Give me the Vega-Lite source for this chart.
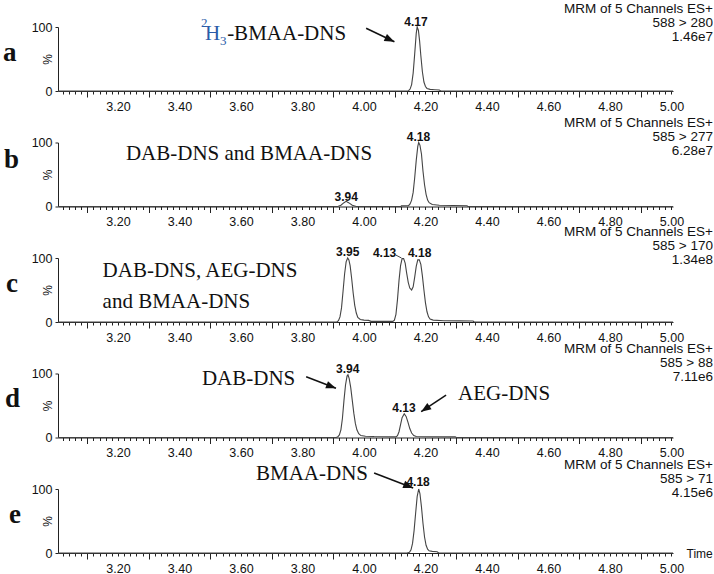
{
  "$schema": "https://vega.github.io/schema/vega-lite/v6.json",
  "padding": {"left": 2, "top": 2, "right": 0, "bottom": 0},
  "spacing": 51.5,
  "bounds": "flush",
  "config": {
    "view": {"stroke": null},
    "axis": {"domainColor": "#222", "tickColor": "#222", "labelColor": "#111", "labelFont": "Liberation Sans", "titleFont": "Liberation Sans", "grid": false, "domainWidth": 1, "tickWidth": 1},
    "title": {"anchor": "end", "align": "right", "frame": "group", "dx": 40, "baseline": "top", "font": "Liberation Sans", "fontSize": 13.5, "fontWeight": "normal", "lineHeight": 14, "color": "#111"}
  },
  "vconcat": [
    {
      "width": 615, "height": 64,
      "title": {"text": ["MRM of 5 Channels ES+", "588 > 280", "1.46e7"], "offset": -28},
      "layer": [
        {"data": {"values": [{"t":3.005,"v":0},{"t":4.135,"v":0},{"t":4.145,"v":0.5},{"t":4.15,"v":3},{"t":4.155,"v":10},{"t":4.16,"v":28},{"t":4.165,"v":58},{"t":4.17,"v":90},{"t":4.173,"v":100},{"t":4.177,"v":95},{"t":4.181,"v":78},{"t":4.185,"v":55},{"t":4.19,"v":30},{"t":4.195,"v":14},{"t":4.2,"v":7},{"t":4.205,"v":4},{"t":4.215,"v":2.5},{"t":4.23,"v":2},{"t":4.245,"v":1.5},{"t":4.25,"v":0},{"t":5.005,"v":0}]},
         "mark": {"type": "line", "color": "#444", "strokeWidth": 1.1},
         "encoding": {
           "x": {"field": "t", "type": "quantitative", "scale": {"domain": [3.005, 5.005], "nice": false, "zero": false},
                 "axis": {"tickCount": 100, "format": ".2f", "labelExpr": "abs(datum.value*5 - round(datum.value*5)) < 0.001 ? datum.label : ''", "labelOverlap": false, "labelFlush": false, "labelFontSize": 12.5, "labelPadding": 6, "tickSize": {"condition": {"test": "abs(datum.value*10 - round(datum.value*10)) < 0.001 && round(datum.value*10) % 2 == 1", "value": 6}, "value": 3}, "title": null}},
           "y": {"field": "v", "type": "quantitative", "scale": {"domain": [0, 100], "nice": false},
                 "axis": {"values": [0,10,20,30,40,50,60,70,80,90,100], "labelExpr": "datum.value == 0 || datum.value == 100 ? datum.label : ''", "labelOverlap": false, "labelFlush": false, "labelFontSize": 12.5, "labelPadding": 3, "tickSize": 3, "title": "%", "titleX": -11, "titleY": 32, "titleAngle": -90, "titleAlign": "center", "titleBaseline": "middle", "titleFontSize": 12, "titleFontWeight": "normal", "titleColor": "#111"}}
         }},
        {"data": {"values": [{"t":4.169,"v":102,"label":"4.17"}]},
         "mark": {"type": "text", "font": "Liberation Sans", "fontSize": 12, "fontWeight": "bold", "align": "center", "baseline": "alphabetic", "color": "#111"},
         "encoding": {"x": {"field": "t", "type": "quantitative"}, "y": {"field": "v", "type": "quantitative"}, "text": {"field": "label"}}},
        {"data": {"values": [{"t":2.826,"v":47,"label":"a"}]},
         "mark": {"type": "text", "font": "Liberation Serif", "fontSize": 27, "fontWeight": "bold", "align": "left", "baseline": "alphabetic", "color": "#111"},
         "encoding": {"x": {"field": "t", "type": "quantitative"}, "y": {"field": "v", "type": "quantitative"}, "text": {"field": "label"}}},
        {"data": {"values": [{"t":3.483,"v":80,"label":"H"}]},
         "mark": {"type": "text", "font": "Liberation Serif", "fontSize": 21, "align": "left", "baseline": "alphabetic", "color": "#2b5ca8"},
         "encoding": {"x": {"field": "t", "type": "quantitative"}, "y": {"field": "v", "type": "quantitative"}, "text": {"field": "label"}}},
        {"data": {"values": [{"t":3.470,"v":100,"label":"2"},{"t":3.532,"v":72,"label":"3"}]},
         "mark": {"type": "text", "font": "Liberation Serif", "fontSize": 13, "align": "left", "baseline": "alphabetic", "color": "#2b5ca8"},
         "encoding": {"x": {"field": "t", "type": "quantitative"}, "y": {"field": "v", "type": "quantitative"}, "text": {"field": "label"}}},
        {"data": {"values": [{"t":3.555,"v":80,"label":"-BMAA-DNS"}]},
         "mark": {"type": "text", "font": "Liberation Serif", "fontSize": 21, "align": "left", "baseline": "alphabetic", "color": "#111"},
         "encoding": {"x": {"field": "t", "type": "quantitative"}, "y": {"field": "v", "type": "quantitative"}, "text": {"field": "label"}}},
        {"data": {"values": [{"t":4.007,"v":98,"t2":4.099,"v2":77}]},
         "mark": {"type": "rule", "color": "#111", "strokeWidth": 1.5},
         "encoding": {"x": {"field": "t", "type": "quantitative"}, "y": {"field": "v", "type": "quantitative"}, "x2": {"field": "t2"}, "y2": {"field": "v2"}}},
        {"data": {"values": [{"t":4.099,"v":77}]},
         "mark": {"type": "point", "shape": "M0,0L-1,-0.38L-1,0.38Z", "filled": true, "color": "#111", "opacity": 1, "size": 400, "angle": 25},
         "encoding": {"x": {"field": "t", "type": "quantitative"}, "y": {"field": "v", "type": "quantitative"}}}
      ]
    },
    {
      "width": 615, "height": 64,
      "title": {"text": ["MRM of 5 Channels ES+", "585 > 277", "6.28e7"], "offset": -26.5},
      "layer": [
        {"data": {"values": [{"t":3.005,"v":0},{"t":3.915,"v":0},{"t":3.925,"v":2},{"t":3.935,"v":6},{"t":3.942,"v":8},{"t":3.95,"v":6},{"t":3.962,"v":2},{"t":3.975,"v":0},{"t":4.12,"v":0},{"t":4.122,"v":1},{"t":4.145,"v":1.2},{"t":4.15,"v":4},{"t":4.155,"v":10},{"t":4.16,"v":22},{"t":4.165,"v":45},{"t":4.17,"v":72},{"t":4.175,"v":94},{"t":4.178,"v":100},{"t":4.182,"v":96},{"t":4.187,"v":82},{"t":4.192,"v":55},{"t":4.197,"v":34},{"t":4.202,"v":19},{"t":4.207,"v":10},{"t":4.212,"v":6},{"t":4.222,"v":3},{"t":4.245,"v":2},{"t":4.29,"v":1.5},{"t":4.335,"v":1.2},{"t":4.338,"v":0},{"t":5.005,"v":0}]},
         "mark": {"type": "line", "color": "#444", "strokeWidth": 1.1},
         "encoding": {
           "x": {"field": "t", "type": "quantitative", "scale": {"domain": [3.005, 5.005], "nice": false, "zero": false},
                 "axis": {"tickCount": 100, "format": ".2f", "labelExpr": "abs(datum.value*5 - round(datum.value*5)) < 0.001 ? datum.label : ''", "labelOverlap": false, "labelFlush": false, "labelFontSize": 12.5, "labelPadding": 6, "tickSize": {"condition": {"test": "abs(datum.value*10 - round(datum.value*10)) < 0.001 && round(datum.value*10) % 2 == 1", "value": 6}, "value": 3}, "title": null}},
           "y": {"field": "v", "type": "quantitative", "scale": {"domain": [0, 100], "nice": false},
                 "axis": {"values": [0,10,20,30,40,50,60,70,80,90,100], "labelExpr": "datum.value == 0 || datum.value == 100 ? datum.label : ''", "labelOverlap": false, "labelFlush": false, "labelFontSize": 12.5, "labelPadding": 3, "tickSize": 3, "title": "%", "titleX": -11, "titleY": 32, "titleAngle": -90, "titleAlign": "center", "titleBaseline": "middle", "titleFontSize": 12, "titleFontWeight": "normal", "titleColor": "#111"}}
         }},
        {"data": {"values": [{"t":4.177,"v":103,"label":"4.18"},{"t":3.942,"v":9,"label":"3.94"}]},
         "mark": {"type": "text", "font": "Liberation Sans", "fontSize": 12, "fontWeight": "bold", "align": "center", "baseline": "alphabetic", "color": "#111"},
         "encoding": {"x": {"field": "t", "type": "quantitative"}, "y": {"field": "v", "type": "quantitative"}, "text": {"field": "label"}}},
        {"data": {"values": [{"t":2.829,"v":60,"label":"b"}]},
         "mark": {"type": "text", "font": "Liberation Serif", "fontSize": 27, "fontWeight": "bold", "align": "left", "baseline": "alphabetic", "color": "#111"},
         "encoding": {"x": {"field": "t", "type": "quantitative"}, "y": {"field": "v", "type": "quantitative"}, "text": {"field": "label"}}},
        {"data": {"values": [{"t":3.226,"v":72.7,"label":"DAB-DNS and BMAA-DNS"}]},
         "mark": {"type": "text", "font": "Liberation Serif", "fontSize": 21, "align": "left", "baseline": "alphabetic", "color": "#111"},
         "encoding": {"x": {"field": "t", "type": "quantitative"}, "y": {"field": "v", "type": "quantitative"}, "text": {"field": "label"}}}
      ]
    },
    {
      "width": 615, "height": 64,
      "title": {"text": ["MRM of 5 Channels ES+", "585 > 170", "1.34e8"], "offset": -20.5},
      "layer": [
        {"data": {"values": [{"t":3.005,"v":0},{"t":3.912,"v":0},{"t":3.917,"v":2},{"t":3.922,"v":8},{"t":3.927,"v":22},{"t":3.932,"v":48},{"t":3.937,"v":75},{"t":3.942,"v":94},{"t":3.947,"v":100},{"t":3.951,"v":97},{"t":3.955,"v":88},{"t":3.96,"v":68},{"t":3.965,"v":45},{"t":3.97,"v":26},{"t":3.975,"v":14},{"t":3.98,"v":7},{"t":3.988,"v":4},{"t":4.0,"v":3},{"t":4.015,"v":2.5},{"t":4.023,"v":1},{"t":4.094,"v":1},{"t":4.099,"v":3},{"t":4.104,"v":12},{"t":4.109,"v":35},{"t":4.114,"v":65},{"t":4.119,"v":88},{"t":4.124,"v":99},{"t":4.129,"v":99},{"t":4.134,"v":92},{"t":4.139,"v":76},{"t":4.144,"v":62},{"t":4.149,"v":53},{"t":4.155,"v":50},{"t":4.16,"v":55},{"t":4.165,"v":70},{"t":4.17,"v":87},{"t":4.175,"v":97},{"t":4.18,"v":97},{"t":4.185,"v":90},{"t":4.19,"v":72},{"t":4.195,"v":50},{"t":4.2,"v":30},{"t":4.205,"v":16},{"t":4.21,"v":8},{"t":4.215,"v":4.5},{"t":4.225,"v":3},{"t":4.26,"v":2},{"t":4.31,"v":1.8},{"t":4.355,"v":1.5},{"t":4.358,"v":0},{"t":5.005,"v":0}]},
         "mark": {"type": "line", "color": "#444", "strokeWidth": 1.1},
         "encoding": {
           "x": {"field": "t", "type": "quantitative", "scale": {"domain": [3.005, 5.005], "nice": false, "zero": false},
                 "axis": {"tickCount": 100, "format": ".2f", "labelExpr": "abs(datum.value*5 - round(datum.value*5)) < 0.001 ? datum.label : ''", "labelOverlap": false, "labelFlush": false, "labelFontSize": 12.5, "labelPadding": 6, "tickSize": {"condition": {"test": "abs(datum.value*10 - round(datum.value*10)) < 0.001 && round(datum.value*10) % 2 == 1", "value": 6}, "value": 3}, "title": null}},
           "y": {"field": "v", "type": "quantitative", "scale": {"domain": [0, 100], "nice": false},
                 "axis": {"values": [0,10,20,30,40,50,60,70,80,90,100], "labelExpr": "datum.value == 0 || datum.value == 100 ? datum.label : ''", "labelOverlap": false, "labelFlush": false, "labelFontSize": 12.5, "labelPadding": 3, "tickSize": 3, "title": "%", "titleX": -11, "titleY": 32, "titleAngle": -90, "titleAlign": "center", "titleBaseline": "middle", "titleFontSize": 12, "titleFontWeight": "normal", "titleColor": "#111"}}
         }},
        {"data": {"values": [{"t":3.947,"v":103,"label":"3.95"},{"t":4.067,"v":102,"label":"4.13"},{"t":4.181,"v":102,"label":"4.18"}]},
         "mark": {"type": "text", "font": "Liberation Sans", "fontSize": 12, "fontWeight": "bold", "align": "center", "baseline": "alphabetic", "color": "#111"},
         "encoding": {"x": {"field": "t", "type": "quantitative"}, "y": {"field": "v", "type": "quantitative"}, "text": {"field": "label"}}},
        {"data": {"values": [{"t":4.104,"v":104.5,"t2":4.122,"v2":100}]},
         "mark": {"type": "rule", "color": "#444", "strokeWidth": 1},
         "encoding": {"x": {"field": "t", "type": "quantitative"}, "y": {"field": "v", "type": "quantitative"}, "x2": {"field": "t2"}, "y2": {"field": "v2"}}},
        {"data": {"values": [{"t":2.836,"v":47,"label":"c"}]},
         "mark": {"type": "text", "font": "Liberation Serif", "fontSize": 27, "fontWeight": "bold", "align": "left", "baseline": "alphabetic", "color": "#111"},
         "encoding": {"x": {"field": "t", "type": "quantitative"}, "y": {"field": "v", "type": "quantitative"}, "text": {"field": "label"}}},
        {"data": {"values": [{"t":3.150,"v":71,"label":"DAB-DNS, AEG-DNS"},{"t":3.150,"v":22,"label":"and BMAA-DNS"}]},
         "mark": {"type": "text", "font": "Liberation Serif", "fontSize": 21, "align": "left", "baseline": "alphabetic", "color": "#111"},
         "encoding": {"x": {"field": "t", "type": "quantitative"}, "y": {"field": "v", "type": "quantitative"}, "text": {"field": "label"}}}
      ]
    },
    {
      "width": 615, "height": 64,
      "title": {"text": ["MRM of 5 Channels ES+", "585 > 88", "7.11e6"], "offset": -21},
      "layer": [
        {"data": {"values": [{"t":3.005,"v":0},{"t":3.91,"v":0},{"t":3.915,"v":1},{"t":3.92,"v":4},{"t":3.925,"v":12},{"t":3.93,"v":30},{"t":3.935,"v":58},{"t":3.94,"v":82},{"t":3.945,"v":96},{"t":3.948,"v":98},{"t":3.952,"v":92},{"t":3.957,"v":78},{"t":3.962,"v":58},{"t":3.967,"v":38},{"t":3.972,"v":22},{"t":3.977,"v":12},{"t":3.983,"v":6},{"t":3.99,"v":3},{"t":4.005,"v":2},{"t":4.033,"v":1.5},{"t":4.104,"v":1},{"t":4.109,"v":3},{"t":4.114,"v":9},{"t":4.119,"v":20},{"t":4.124,"v":31},{"t":4.131,"v":37},{"t":4.137,"v":33},{"t":4.143,"v":24},{"t":4.149,"v":14},{"t":4.155,"v":7},{"t":4.162,"v":3},{"t":4.17,"v":1.5},{"t":4.2,"v":1.2},{"t":4.297,"v":1},{"t":4.3,"v":0},{"t":5.005,"v":0}]},
         "mark": {"type": "line", "color": "#444", "strokeWidth": 1.1},
         "encoding": {
           "x": {"field": "t", "type": "quantitative", "scale": {"domain": [3.005, 5.005], "nice": false, "zero": false},
                 "axis": {"tickCount": 100, "format": ".2f", "labelExpr": "abs(datum.value*5 - round(datum.value*5)) < 0.001 ? datum.label : ''", "labelOverlap": false, "labelFlush": false, "labelFontSize": 12.5, "labelPadding": 6, "tickSize": {"condition": {"test": "abs(datum.value*10 - round(datum.value*10)) < 0.001 && round(datum.value*10) % 2 == 1", "value": 6}, "value": 3}, "title": null}},
           "y": {"field": "v", "type": "quantitative", "scale": {"domain": [0, 100], "nice": false},
                 "axis": {"values": [0,10,20,30,40,50,60,70,80,90,100], "labelExpr": "datum.value == 0 || datum.value == 100 ? datum.label : ''", "labelOverlap": false, "labelFlush": false, "labelFontSize": 12.5, "labelPadding": 3, "tickSize": 3, "title": "%", "titleX": -11, "titleY": 32, "titleAngle": -90, "titleAlign": "center", "titleBaseline": "middle", "titleFontSize": 12, "titleFontWeight": "normal", "titleColor": "#111"}}
         }},
        {"data": {"values": [{"t":3.947,"v":101.3,"label":"3.94"},{"t":4.130,"v":40.3,"label":"4.13"}]},
         "mark": {"type": "text", "font": "Liberation Sans", "fontSize": 12, "fontWeight": "bold", "align": "center", "baseline": "alphabetic", "color": "#111"},
         "encoding": {"x": {"field": "t", "type": "quantitative"}, "y": {"field": "v", "type": "quantitative"}, "text": {"field": "label"}}},
        {"data": {"values": [{"t":2.833,"v":47.7,"label":"d"}]},
         "mark": {"type": "text", "font": "Liberation Serif", "fontSize": 27, "fontWeight": "bold", "align": "left", "baseline": "alphabetic", "color": "#111"},
         "encoding": {"x": {"field": "t", "type": "quantitative"}, "y": {"field": "v", "type": "quantitative"}, "text": {"field": "label"}}},
        {"data": {"values": [{"t":3.473,"v":82,"label":"DAB-DNS"},{"t":4.306,"v":58.6,"label":"AEG-DNS"}]},
         "mark": {"type": "text", "font": "Liberation Serif", "fontSize": 21, "align": "left", "baseline": "alphabetic", "color": "#111"},
         "encoding": {"x": {"field": "t", "type": "quantitative"}, "y": {"field": "v", "type": "quantitative"}, "text": {"field": "label"}}},
        {"data": {"values": [{"t":3.812,"v":95,"t2":3.909,"v2":76.9},{"t":4.267,"v":66.4,"t2":4.186,"v2":40.3}]},
         "mark": {"type": "rule", "color": "#111", "strokeWidth": 1.5},
         "encoding": {"x": {"field": "t", "type": "quantitative"}, "y": {"field": "v", "type": "quantitative"}, "x2": {"field": "t2"}, "y2": {"field": "v2"}}},
        {"data": {"values": [{"t":3.909,"v":76.9}]},
         "mark": {"type": "point", "shape": "M0,0L-1,-0.38L-1,0.38Z", "filled": true, "color": "#111", "opacity": 1, "size": 400, "angle": 21},
         "encoding": {"x": {"field": "t", "type": "quantitative"}, "y": {"field": "v", "type": "quantitative"}}},
        {"data": {"values": [{"t":4.186,"v":40.3}]},
         "mark": {"type": "point", "shape": "M0,0L-1,-0.38L-1,0.38Z", "filled": true, "color": "#111", "opacity": 1, "size": 400, "angle": 146},
         "encoding": {"x": {"field": "t", "type": "quantitative"}, "y": {"field": "v", "type": "quantitative"}}}
      ]
    },
    {
      "width": 615, "height": 64,
      "title": {"text": ["MRM of 5 Channels ES+", "585 > 71", "4.15e6"], "offset": -36},
      "layer": [
        {"data": {"values": [{"t":3.005,"v":0},{"t":4.14,"v":0},{"t":4.148,"v":1},{"t":4.153,"v":5},{"t":4.158,"v":15},{"t":4.163,"v":35},{"t":4.168,"v":62},{"t":4.173,"v":88},{"t":4.178,"v":100},{"t":4.182,"v":93},{"t":4.187,"v":72},{"t":4.192,"v":46},{"t":4.197,"v":25},{"t":4.202,"v":12},{"t":4.207,"v":6},{"t":4.212,"v":3.5},{"t":4.222,"v":2.5},{"t":4.238,"v":2},{"t":4.243,"v":0},{"t":5.005,"v":0}]},
         "mark": {"type": "line", "color": "#444", "strokeWidth": 1.1},
         "encoding": {
           "x": {"field": "t", "type": "quantitative", "scale": {"domain": [3.005, 5.005], "nice": false, "zero": false},
                 "axis": {"tickCount": 100, "format": ".2f", "labelExpr": "abs(datum.value*5 - round(datum.value*5)) < 0.001 ? datum.label : ''", "labelOverlap": false, "labelFlush": false, "labelFontSize": 12.5, "labelPadding": 6, "tickSize": {"condition": {"test": "abs(datum.value*10 - round(datum.value*10)) < 0.001 && round(datum.value*10) % 2 == 1", "value": 6}, "value": 3}, "title": "Time", "titleX": 628, "titleY": 0, "titleAngle": 0, "titleAlign": "left", "titleBaseline": "middle", "titleFontSize": 12, "titleFontWeight": "normal", "titleColor": "#111"}},
           "y": {"field": "v", "type": "quantitative", "scale": {"domain": [0, 100], "nice": false},
                 "axis": {"values": [0,10,20,30,40,50,60,70,80,90,100], "labelExpr": "datum.value == 0 || datum.value == 100 ? datum.label : ''", "labelOverlap": false, "labelFlush": false, "labelFontSize": 12.5, "labelPadding": 3, "tickSize": 3, "title": "%", "titleX": -11, "titleY": 32, "titleAngle": -90, "titleAlign": "center", "titleBaseline": "middle", "titleFontSize": 12, "titleFontWeight": "normal", "titleColor": "#111"}}
         }},
        {"data": {"values": [{"t":4.176,"v":104.7,"label":"4.18"}]},
         "mark": {"type": "text", "font": "Liberation Sans", "fontSize": 12, "fontWeight": "bold", "align": "center", "baseline": "alphabetic", "color": "#111"},
         "encoding": {"x": {"field": "t", "type": "quantitative"}, "y": {"field": "v", "type": "quantitative"}, "text": {"field": "label"}}},
        {"data": {"values": [{"t":2.846,"v":47,"label":"e"}]},
         "mark": {"type": "text", "font": "Liberation Serif", "fontSize": 27, "fontWeight": "bold", "align": "left", "baseline": "alphabetic", "color": "#111"},
         "encoding": {"x": {"field": "t", "type": "quantitative"}, "y": {"field": "v", "type": "quantitative"}, "text": {"field": "label"}}},
        {"data": {"values": [{"t":3.649,"v":114,"label":"BMAA-DNS"}]},
         "mark": {"type": "text", "font": "Liberation Serif", "fontSize": 21, "align": "left", "baseline": "alphabetic", "color": "#111"},
         "encoding": {"x": {"field": "t", "type": "quantitative"}, "y": {"field": "v", "type": "quantitative"}, "text": {"field": "label"}}},
        {"data": {"values": [{"t":4.033,"v":125,"t2":4.160,"v2":101.6}]},
         "mark": {"type": "rule", "color": "#111", "strokeWidth": 1.5},
         "encoding": {"x": {"field": "t", "type": "quantitative"}, "y": {"field": "v", "type": "quantitative"}, "x2": {"field": "t2"}, "y2": {"field": "v2"}}},
        {"data": {"values": [{"t":4.160,"v":101.6}]},
         "mark": {"type": "point", "shape": "M0,0L-1,-0.38L-1,0.38Z", "filled": true, "color": "#111", "opacity": 1, "size": 400, "angle": 21},
         "encoding": {"x": {"field": "t", "type": "quantitative"}, "y": {"field": "v", "type": "quantitative"}}}
      ]
    }
  ]
}
